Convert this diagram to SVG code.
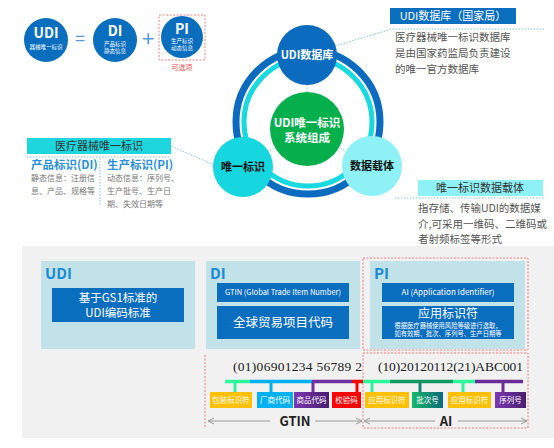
<svg xmlns="http://www.w3.org/2000/svg" width="554" height="448" viewBox="0 0 554 448">
<defs>
<style>
text{font-family:"Noto Sans CJK SC","Liberation Sans",sans-serif;}
.w{fill:#fff}
.b{font-weight:bold}
.dot{stroke:#7cc6ea;stroke-width:1;stroke-dasharray:1.5 1.5;fill:none}
.red{stroke:#f06060;stroke-width:0.8;stroke-dasharray:2 1.5;fill:none}
.blue{fill:#0a6ebf}
.teal{fill:#c0e2e8}
.lab{font-size:7.5px;fill:#fff;text-anchor:middle}
.code{font-family:"Liberation Serif",serif;font-size:13.5px;fill:#222}
.arr{stroke:#999;stroke-width:1;fill:none}
</style>
<marker id="ah" viewBox="0 0 8 8" refX="7" refY="4" markerWidth="8" markerHeight="8" orient="auto-start-reverse" markerUnits="userSpaceOnUse">
<path d="M1,1 L7,4 L1,7" fill="none" stroke="#999" stroke-width="1"/>
</marker>
<linearGradient id="gpur" x1="0" x2="1"><stop offset="0" stop-color="#7a38b0"/><stop offset="1" stop-color="#4a1d70"/></linearGradient>
<linearGradient id="ggrn" x1="0" x2="1"><stop offset="0" stop-color="#16b86a"/><stop offset="1" stop-color="#0b6a7a"/></linearGradient>
</defs>
<rect width="554" height="448" fill="#fff"/>

<g id="formula">
<circle cx="46" cy="40" r="22" class="blue"/>
<text x="46" y="38" class="w b" font-size="14" text-anchor="middle">UDI</text>
<text x="46" y="49" class="w" font-size="5.5" text-anchor="middle">器械唯一标识</text>
<text x="80" y="45" font-size="18" fill="#5b9bd5" text-anchor="middle">=</text>
<circle cx="115" cy="40" r="22" class="blue"/>
<text x="115" y="36" class="w b" font-size="14" text-anchor="middle">DI</text>
<text x="115" y="46" class="w" font-size="5.5" text-anchor="middle">产品标识</text>
<text x="115" y="53" class="w" font-size="5.5" text-anchor="middle">静态信息</text>
<text x="148" y="47" font-size="22" fill="#5b9bd5" text-anchor="middle">+</text>
<rect x="159" y="15" width="46" height="45" class="red"/>
<circle cx="182" cy="37" r="21" class="blue"/>
<text x="182" y="34" class="w b" font-size="14" text-anchor="middle">PI</text>
<text x="182" y="43" class="w" font-size="5.5" text-anchor="middle">生产标识</text>
<text x="182" y="50" class="w" font-size="5.5" text-anchor="middle">动态信息</text>
<text x="182" y="70" font-size="7" fill="#f05050" text-anchor="middle">可选项</text>
</g>

<g id="connectors">
<line x1="307" y1="128" x2="307" y2="55" class="dot"/>
<line x1="307" y1="128" x2="243" y2="167" class="dot"/>
<line x1="307" y1="128" x2="372" y2="167" class="dot"/>
<polyline points="335,46 392,29 545,29" class="dot"/>
<polyline points="214,165 171,146" class="dot"/>
<line x1="27" y1="157" x2="171" y2="157" class="dot"/>
<line x1="100" y1="158" x2="100" y2="206" class="dot"/>
<line x1="395" y1="198" x2="545" y2="198" class="dot"/>
</g>

<g id="ring">
<circle cx="308" cy="122" r="72" fill="none" stroke="#0b6cbf" stroke-width="7"/>
<circle cx="308" cy="122" r="64" fill="none" stroke="#18d8e0" stroke-width="5"/>
</g>

<g id="center">
<circle cx="307" cy="129" r="37" fill="#05b04c"/>
<text x="307" y="127" class="w b" font-size="11.5" text-anchor="middle">UDI唯一标识</text>
<text x="307" y="142" class="w b" font-size="11.5" text-anchor="middle">系统组成</text>
</g>

<g id="node-db">
<circle cx="307" cy="55" r="30" fill="#0b6cbf"/>
<text x="307" y="59" class="w b" font-size="11" text-anchor="middle">UDI数据库</text>
</g>
<g id="node-id">
<circle cx="243" cy="167" r="30" fill="#16d6df"/>
<text x="243" y="171" class="b" font-size="11" fill="#111" text-anchor="middle">唯一标识</text>
</g>
<g id="node-carrier">
<circle cx="372" cy="166" r="30" fill="#8ef1f5"/>
<text x="372" y="170" class="b" font-size="11" fill="#111" text-anchor="middle">数据载体</text>
</g>

<g id="info-db">
<rect x="390" y="8" width="126" height="16" fill="#0a6ebf"/>
<text x="453" y="20" class="w" font-size="11" text-anchor="middle">UDI数据库（国家局）</text>
<text x="395" y="41" font-size="10.5" fill="#555">医疗器械唯一标识数据库</text>
<text x="395" y="57" font-size="10.5" fill="#555">是由国家药监局负责建设</text>
<text x="395" y="73" font-size="10.5" fill="#555">的唯一官方数据库</text>
</g>

<g id="info-id">
<rect x="27" y="138" width="144" height="16" fill="#1dd6de"/>
<text x="99" y="150" font-size="11" fill="#333" text-anchor="middle">医疗器械唯一标识</text>
<text x="31" y="169" class="b" font-size="11.5" fill="#2a90dc">产品标识(DI)</text>
<text x="107" y="169" class="b" font-size="11.5" fill="#2a90dc">生产标识(PI)</text>
<text x="31" y="181" font-size="8" fill="#777">静态信息：注册信</text>
<text x="31" y="194" font-size="8" fill="#777">息、产品、规格等</text>
<text x="107" y="181" font-size="8" fill="#777">动态信息：序列号、</text>
<text x="107" y="194" font-size="8" fill="#777">生产批号、生产日</text>
<text x="107" y="207" font-size="8" fill="#777">期、失效日期等</text>
</g>

<g id="info-carrier">
<rect x="418" y="180" width="125" height="16" fill="#8ef1f5"/>
<text x="480" y="192" font-size="11" fill="#333" text-anchor="middle">唯一标识数据载体</text>
<text x="418" y="212" font-size="10.5" fill="#555">指存储、传输UDI的数据媒</text>
<text x="418" y="228" font-size="10.5" fill="#555">介,可采用一维码、二维码或</text>
<text x="418" y="243" font-size="10.5" fill="#555">者射频标签等形式</text>
</g>

<rect x="22" y="246" width="532" height="192" fill="#f1f1f1"/>

<g id="box-udi">
<rect x="41" y="261" width="154" height="88" class="teal"/>
<text x="45" y="279" class="b" font-size="15" fill="#1a8ad6">UDI</text>
<rect x="52" y="288" width="132" height="34" class="blue"/>
<text x="118" y="302" class="w" font-size="11.5" text-anchor="middle">基于GS1标准的</text>
<text x="118" y="317" class="w" font-size="11.5" text-anchor="middle">UDI编码标准</text>
</g>

<g id="box-di">
<rect x="206" y="261" width="154" height="88" class="teal"/>
<text x="210" y="279" class="b" font-size="15" fill="#1a8ad6">DI</text>
<rect x="217" y="283" width="132" height="19" class="blue"/>
<text x="283" y="295" class="w" font-size="7.5" text-anchor="middle">GTIN (Global Trade Item Number)</text>
<rect x="217" y="306" width="132" height="33" class="blue"/>
<text x="283" y="327" class="w" font-size="12.5" text-anchor="middle">全球贸易项目代码</text>
</g>

<g id="box-pi">
<rect x="363" y="258" width="165" height="92" class="red"/>
<rect x="370" y="261" width="155" height="88" class="teal"/>
<text x="374" y="279" class="b" font-size="15" fill="#1a8ad6">PI</text>
<rect x="382" y="283" width="132" height="19" class="blue"/>
<text x="448" y="295" class="w" font-size="8" text-anchor="middle">AI (Application Identifier)</text>
<rect x="382" y="306" width="132" height="33" class="blue"/>
<text x="448" y="318" class="w" font-size="12" text-anchor="middle">应用标识符</text>
<text x="448" y="327.5" class="w" font-size="6.3" text-anchor="middle">根据医疗器械使用风险等级进行选取，</text>
<text x="448" y="335.5" class="w" font-size="6.3" text-anchor="middle">如有效期、批次、序列号、生产日期等</text>
</g>

<g id="codes">
<line x1="205" y1="355" x2="205" y2="428" class="red"/>
<rect x="363" y="353" width="165" height="75" class="red"/>
<text x="233" y="371" class="code" textLength="129" lengthAdjust="spacing">(01)06901234  56789  2</text>
<text x="378" y="371" class="code" textLength="145" lengthAdjust="spacing">(10)20120112(21)ABC001</text>
<g stroke-width="3.5">
<line x1="225" y1="381.5" x2="250" y2="381.5" stroke="#2ef59c"/>
<line x1="250" y1="381.5" x2="312" y2="381.5" stroke="#00b0f0"/>
<line x1="312" y1="381.5" x2="352" y2="381.5" stroke="#7030a0"/>
<line x1="352" y1="381.5" x2="363" y2="381.5" stroke="#ff0000"/>
<line x1="363" y1="381.5" x2="390" y2="381.5" stroke="#2ef59c"/>
<line x1="390" y1="381.5" x2="453" y2="381.5" stroke="#0f9a64"/>
<line x1="453" y1="381.5" x2="475" y2="381.5" stroke="#2ef59c"/>
<line x1="475" y1="381.5" x2="523" y2="381.5" stroke="#6a2c98"/>
</g>
<g stroke-width="3">
<line x1="235" y1="382" x2="235" y2="392" stroke="#2ef59c"/>
<line x1="271" y1="382" x2="271" y2="392" stroke="#00b0f0"/>
<line x1="313" y1="382" x2="313" y2="392" stroke="#7030a0"/>
<line x1="357" y1="382" x2="357" y2="392" stroke="#ff0000"/>
<line x1="372" y1="382" x2="372" y2="392" stroke="#2ef59c"/>
<line x1="420" y1="382" x2="420" y2="392" stroke="#0f8a70"/>
<line x1="463" y1="382" x2="463" y2="392" stroke="#2ef59c"/>
<line x1="503" y1="382" x2="503" y2="392" stroke="#6a2c98"/>
</g>
<rect x="210" y="392" width="42" height="16" fill="#ffc000"/>
<text x="231" y="403" class="lab">包装标识符</text>
<rect x="257" y="392" width="36" height="16" fill="#00b0f0"/>
<text x="275" y="403" class="lab">厂商代码</text>
<rect x="294" y="392" width="35" height="16" fill="url(#gpur)"/>
<text x="311.5" y="403" class="lab">商品代码</text>
<rect x="332" y="392" width="29" height="16" fill="#ff0000"/>
<text x="346.5" y="403" class="lab">校验码</text>
<rect x="365" y="392" width="44" height="16" fill="#ffc000"/>
<text x="387" y="403" class="lab">应用标识符</text>
<rect x="412" y="392" width="31" height="16" fill="url(#ggrn)"/>
<text x="427.5" y="403" class="lab">批次号</text>
<rect x="448" y="392" width="43" height="16" fill="#ffc000"/>
<text x="469.5" y="403" class="lab">应用标识符</text>
<rect x="495" y="392" width="31" height="16" fill="url(#gpur)"/>
<text x="510.5" y="403" class="lab">序列号</text>
<line x1="270" y1="421" x2="208" y2="421" class="arr" marker-end="url(#ah)"/>
<text x="295" y="426" class="b" font-size="13" fill="#222" text-anchor="middle" font-family="Liberation Sans,sans-serif">GTIN</text>
<line x1="315" y1="421" x2="362" y2="421" class="arr" marker-end="url(#ah)"/>
<line x1="435" y1="421" x2="364" y2="421" class="arr" marker-end="url(#ah)"/>
<text x="446" y="426" class="b" font-size="13" fill="#222" text-anchor="middle" font-family="Liberation Sans,sans-serif">AI</text>
<line x1="458" y1="421" x2="527" y2="421" class="arr" marker-end="url(#ah)"/>
</g>
</svg>
